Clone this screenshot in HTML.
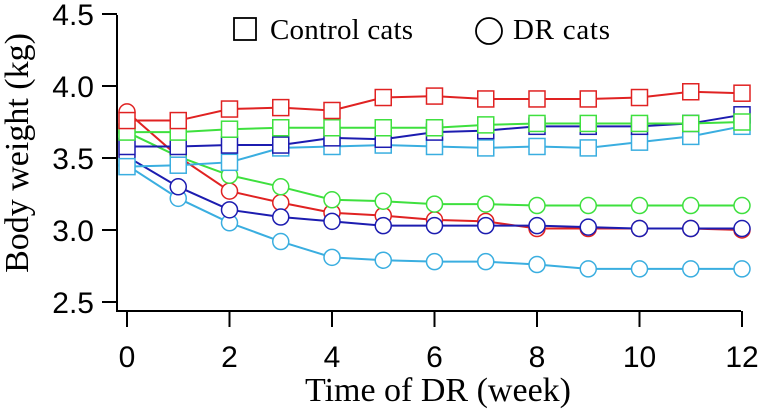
<!DOCTYPE html>
<html><head><meta charset="utf-8"><style>
html,body{margin:0;padding:0;background:#fff;width:761px;height:411px;overflow:hidden}
svg{display:block}
</style></head><body>
<svg id="chart" width="761" height="411" viewBox="0 0 761 411" xmlns="http://www.w3.org/2000/svg"></svg>
<script>
const weeks = [0,1,2,3,4,5,6,7,8,9,10,11,12];
const xTicks = [0,2,4,6,8,10,12];
const yTicks = [2.5,3.0,3.5,4.0,4.5];
const yTickLabels = ["2.5","3.0","3.5","4.0","4.5"];
const ctrlRed = [3.76,3.76,3.84,3.85,3.83,3.92,3.93,3.91,3.91,3.91,3.92,3.96,3.95];
const ctrlGreen = [3.68,3.68,3.70,3.71,3.71,3.71,3.71,3.73,3.74,3.74,3.74,3.74,3.75];
const ctrlBlue = [3.58,3.58,3.59,3.59,3.64,3.63,3.68,3.69,3.72,3.72,3.72,3.74,3.80];
const ctrlCyan = [3.44,3.45,3.47,3.57,3.58,3.59,3.58,3.57,3.58,3.57,3.61,3.65,3.72];
const drRed = [3.82,3.51,3.27,3.19,3.12,3.10,3.07,3.06,3.01,3.01,3.01,3.01,3.00];
const drGreen = [3.68,3.51,3.38,3.30,3.21,3.20,3.18,3.18,3.17,3.17,3.17,3.17,3.17];
const drBlue = [3.51,3.30,3.14,3.09,3.06,3.03,3.03,3.03,3.03,3.02,3.01,3.01,3.01];
const drCyan = [3.45,3.22,3.05,2.92,2.81,2.79,2.78,2.78,2.76,2.73,2.73,2.73,2.73];

const NS="http://www.w3.org/2000/svg";
const svg=document.getElementById('chart');
const X0=127, XS=51.25, YB=302, YS=144;
function xs(w){return X0+w*XS;}
function ys(v){return YB-(v-2.5)*YS;}
function mk(tag,attrs,parent){const e=document.createElementNS(NS,tag);for(const k in attrs)e.setAttribute(k,attrs[k]);(parent||svg).appendChild(e);return e;}

const axes=mk('g',{});


const yl=mk('line',{x1:117,y1:15,x2:117,y2:311,stroke:'#000','stroke-width':2},axes);


const xl=mk('line',{x1:116,y1:311,x2:741,y2:311,stroke:'#000','stroke-width':2},axes);


yTicks.forEach((v,i)=>{
  const t=mk('line',{x1:102,y1:ys(v),x2:117,y2:ys(v),stroke:'#000','stroke-width':2},axes);
  
  
  const tx=mk('text',{x:94,y:ys(v)+11,'text-anchor':'end','font-family':'Liberation Sans, sans-serif','font-size':30},axes);
  tx.textContent=yTickLabels[i];
  
  
});
xTicks.forEach(w=>{
  const t=mk('line',{x1:xs(w),y1:311,x2:xs(w),y2:327,stroke:'#000','stroke-width':2},axes);
  
  
  const tx=mk('text',{x:xs(w),y:367,'text-anchor':'middle','font-family':'Liberation Sans, sans-serif','font-size':30},axes);
  tx.textContent=String(w);
  
  
});
const xt=mk('text',{x:438,y:401,'text-anchor':'middle','font-family':'Liberation Serif, serif','font-size':34});
xt.textContent='Time of DR (week)';


const yt=mk('text',{x:0,y:0,'text-anchor':'middle','font-family':'Liberation Serif, serif','font-size':34,transform:'translate(28,153) rotate(-90)'});
yt.textContent='Body weight (kg)';



const series=[
 {d:drCyan,c:'#3aaee0',m:'circle',n:'dr-cyan'},
 {d:drRed,c:'#e02222',m:'circle',n:'dr-red'},
 {d:drBlue,c:'#1c1cb0',m:'circle',n:'dr-blue'},
 {d:drGreen,c:'#3ee03e',m:'circle',n:'dr-green'},
 {d:ctrlCyan,c:'#3aaee0',m:'square',n:'control-cyan'},
 {d:ctrlBlue,c:'#1c1cb0',m:'square',n:'control-blue'},
 {d:ctrlGreen,c:'#3ee03e',m:'square',n:'control-green'},
 {d:ctrlRed,c:'#e02222',m:'square',n:'control-red'}
];
series.forEach(s=>{
  const g=mk('g',{});
  
  
  const pl=mk('polyline',{points:weeks.map((w,i)=>xs(w)+','+ys(s.d[i])).join(' '),fill:'none',stroke:s.c,'stroke-width':2},g);
  
  
  weeks.forEach((w,i)=>{
    let e;
    if(s.m==='circle') e=mk('circle',{cx:xs(w),cy:ys(s.d[i]),r:8,fill:'#fff',stroke:s.c,'stroke-width':1.5},g);
    else e=mk('rect',{x:xs(w)-8,y:ys(s.d[i])-8,width:16,height:16,fill:'#fff',stroke:s.c,'stroke-width':1.5},g);
    
    
  });
});

const lg=mk('g',{});


const ls=mk('rect',{x:234,y:18,width:22,height:22,fill:'#fff',stroke:'#000','stroke-width':1.8},lg);


const lt1=mk('text',{x:270,y:39,'font-family':'Liberation Serif, serif','font-size':29,textLength:143},lg);
lt1.textContent='Control cats';


const lc=mk('circle',{cx:489,cy:31,r:13,fill:'#fff',stroke:'#000','stroke-width':1.8},lg);


const lt2=mk('text',{x:513,y:39,'font-family':'Liberation Serif, serif','font-size':29,textLength:97},lg);
lt2.textContent='DR cats';


</script>
</body></html>
